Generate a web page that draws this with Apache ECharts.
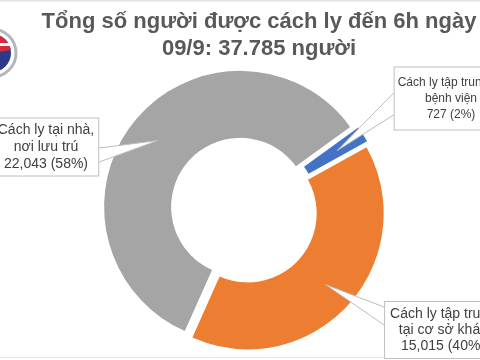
<!DOCTYPE html>
<html>
<head>
<meta charset="utf-8">
<script src="https://cdn.jsdelivr.net/npm/echarts@6/dist/echarts.min.js"></script>
<style>
html,body{margin:0;padding:0;background:#fff;}
#c{width:480px;height:360px;}
</style>
</head>
<body>
<div id="c"></div>
<script>
// ---- data ----
const titleText = 'Tổng số người được cách ly đến 6h ngày\n09/9: 37.785 người';
const categories = ['Cách ly tại nhà,\nnơi lưu trú', 'Cách ly tập trung tại\nbệnh viện', 'Cách ly tập trung\ntại cơ sở khác'];
const values = [22043, 727, 15015];
const percents = ['58%', '2%', '40%'];
const valueLabels = ['22,043', '727', '15,015'];
const colors = ['#a5a5a5', '#4472c4', '#ed7d31'];

// ---- layout (styles/positions) ----
const CX = 244, CY = 210, R0 = 69, R1 = 136, START = 246, OFFSET = 5;
const labelCfg = [
  {x: 46, y: 147, fontSize: 14, lineHeight: 17, padding: [3, 4, 3, 4], base: [1, 15], side: 'right'},
  {x: 451, y: 98.5, fontSize: 12, lineHeight: 16, padding: [7, 3, 7, 3], base: [-5.5, 16.5], side: 'left'},
  {x: 443, y: 330, fontSize: 14, lineHeight: 16, padding: [4, 5, 4, 5], base: [-23, -5], side: 'left'}
];

const total = values.reduce((a, b) => a + b, 0);
const midAngles = [];
(function () {
  let a = START;
  values.forEach(v => {
    const span = v / total * 360;
    midAngles.push(a - span / 2);
    a -= span;
  });
})();

const chart = echarts.init(document.getElementById('c'), null, {renderer: 'canvas'});

function explodedCenter(k) {
  const ang = midAngles[k] * Math.PI / 180;
  return [CX + OFFSET * Math.cos(ang), CY - OFFSET * Math.sin(ang)];
}

// one series per slice, shifted outwards along its mid angle (exploded donut)
function sliceSeries(k) {
  return {
    type: 'pie',
    z: 2,
    center: explodedCenter(k),
    radius: [R0, R1],
    startAngle: START,
    clockwise: true,
    silent: true,
    emphasis: {disabled: true},
    label: {show: false},
    labelLine: {show: false},
    data: values.map((v, i) => ({
      name: categories[i],
      value: v,
      itemStyle: {color: i === k ? colors[i] : 'rgba(0,0,0,0)'}
    }))
  };
}

// label series on top (transparent sectors) carrying callouts
const labelSeries = {
  type: 'pie',
  z: 5,
  center: [CX, CY],
  radius: [R0, R1],
  startAngle: START,
  clockwise: true,
  silent: true,
  avoidLabelOverlap: false,
  emphasis: {disabled: true},
  label: {
    show: true,
    position: 'outside',
    formatter: p => p.name + '\n' + valueLabels[p.dataIndex] + ' (' + percents[p.dataIndex] + ')',
    fontFamily: 'Liberation Sans, Arial, sans-serif',
    color: '#404040',
    align: 'center',
    backgroundColor: '#ffffff',
    borderColor: '#bfbfbf',
    borderWidth: 1
  },
  labelLine: {show: true, smooth: false, length: 10, length2: 10, lineStyle: {color: '#bcbcbc', width: 1}},
  labelLayout: function (params) {
    try {
      const i = params.dataIndex;
      const cfg = labelCfg[i];
      const c = explodedCenter(i);
      const ang = midAngles[i] * Math.PI / 180;
      const w = params.labelRect.width;
      const edgeX = cfg.side === 'right' ? cfg.x + w / 2 : cfg.x - w / 2;
      const rt = (R0 + R1) / 2 + 3;
      const tip = [c[0] + rt * Math.cos(ang), c[1] - rt * Math.sin(ang)];
      return {
        x: cfg.x, y: cfg.y, align: 'center', verticalAlign: 'middle',
        labelLinePoints: [[edgeX, cfg.y + cfg.base[0]], tip, [edgeX, cfg.y + cfg.base[1]]]
      };
    } catch (e) { return {}; }
  },
  data: values.map((v, i) => ({
    name: categories[i],
    value: v,
    itemStyle: {color: 'rgba(0,0,0,0)'},
    label: {
      fontSize: labelCfg[i].fontSize,
      lineHeight: labelCfg[i].lineHeight,
      padding: labelCfg[i].padding
    }
  }))
};

chart.setOption({
  animation: false,
  backgroundColor: '#ffffff',
  graphic: [
    {type: 'line', shape: {x1: 0, y1: 0.5, x2: 480, y2: 0.5}, style: {stroke: '#e3e3e3', lineWidth: 2}},
    {type: 'line', shape: {x1: 0, y1: 357.5, x2: 480, y2: 357.5}, style: {stroke: '#e6e6e6', lineWidth: 1}},
    {type: 'circle', shape: {cx: -8, cy: 53, r: 24}, style: {fill: 'none', stroke: '#b4b6c0', lineWidth: 3}},
    {type: 'circle', shape: {cx: -8, cy: 53, r: 19}, style: {fill: '#2d3a8a'}},
    {type: 'sector', shape: {cx: -8, cy: 53, r: 19, r0: 0, startAngle: -Math.PI * 0.95, endAngle: -Math.PI * 0.05}, style: {fill: '#d8283a'}},
    {type: 'rect', shape: {x: 0, y: 43, width: 12, height: 3}, style: {fill: '#ffffff'}},
    {
      type: 'text', x: 259, y: 8,
      style: {
        text: titleText, align: 'center', verticalAlign: 'top',
        fontFamily: 'Liberation Sans, Arial, sans-serif', fontWeight: 'bold',
        fontSize: 22, lineHeight: 27, fill: '#595959'
      }
    }
  ],
  series: [sliceSeries(0), sliceSeries(2), sliceSeries(1), labelSeries]
});

// callout pointers are white-filled wedges
try {
  const zr = chart.getZr();
  zr.storage.getDisplayList(true).forEach(function (el) {
    if (el.type === 'polyline') { el.setStyle({fill: '#ffffff'}); }
  });
  zr.refreshImmediately();
} catch (e) {}
</script>
</body>
</html>
